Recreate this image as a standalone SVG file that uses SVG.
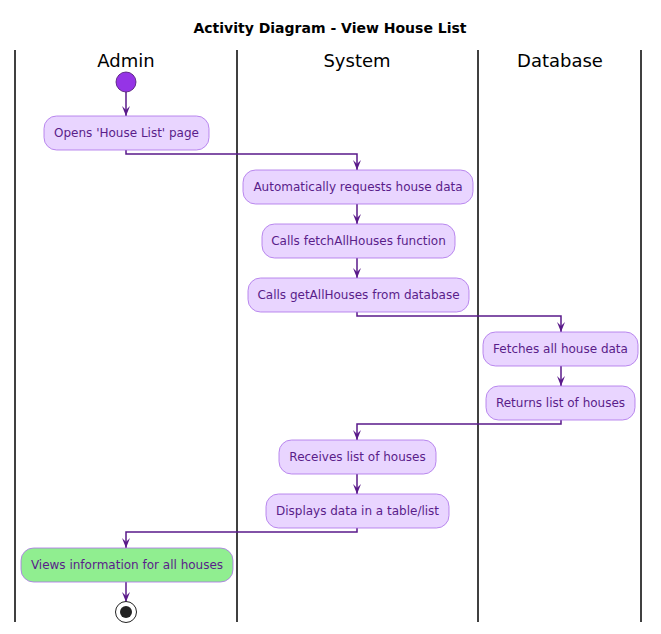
<svg xmlns="http://www.w3.org/2000/svg" width="661" height="634" viewBox="0 0 661 634">
<defs>
<style>
.title{font-family:"DejaVu Sans",sans-serif;font-size:14px;font-weight:bold;fill:#000;text-anchor:middle}
.lane{font-family:"DejaVu Sans",sans-serif;font-size:18px;fill:#000;text-anchor:middle}
.sep{stroke:#000;stroke-width:1.5}
.act rect{fill:#E9D5FF;stroke:#A96EE8;stroke-width:0.8}
.act.done rect{fill:#90EE90}
.act text{font-family:"DejaVu Sans",sans-serif;font-size:12px;fill:#5A1D8A;text-anchor:middle}
.conn{fill:none;stroke:#5A1A8A;stroke-width:1.5}
</style>
<marker id="arr" viewBox="0 0 10 10" refX="10" refY="5" markerWidth="10" markerHeight="10" markerUnits="userSpaceOnUse" orient="auto">
<polygon points="0,1 10,5 0,9 4,5" fill="#5A1A8A"/>
</marker>
</defs>
<rect width="661" height="634" fill="#fff"/>
<text class="title" x="330" y="33">Activity Diagram - View House List</text>
<g id="lanes">
<line class="sep" x1="15" y1="50" x2="15" y2="622"/>
<line class="sep" x1="237" y1="50" x2="237" y2="622"/>
<line class="sep" x1="478" y1="50" x2="478" y2="622"/>
<line class="sep" x1="641" y1="50" x2="641" y2="622"/>
<text class="lane" x="126" y="67">Admin</text>
<text class="lane" x="357" y="67">System</text>
<text class="lane" x="560" y="67">Database</text>
</g>
<g id="connectors">
<path class="conn" d="M126,92 V116" marker-end="url(#arr)"/>
<path class="conn" d="M126,150 V154 H357 V170" marker-end="url(#arr)"/>
<path class="conn" d="M357,204 V224" marker-end="url(#arr)"/>
<path class="conn" d="M357,258 V278" marker-end="url(#arr)"/>
<path class="conn" d="M357,312 V316 H561 V332" marker-end="url(#arr)"/>
<path class="conn" d="M561,366 V386" marker-end="url(#arr)"/>
<path class="conn" d="M561,420 V424 H357 V440" marker-end="url(#arr)"/>
<path class="conn" d="M357,474 V494" marker-end="url(#arr)"/>
<path class="conn" d="M357,528 V532 H126 V548" marker-end="url(#arr)"/>
<path class="conn" d="M126,582 V602" marker-end="url(#arr)"/>
</g>
<g id="start"><circle cx="126" cy="82" r="10" fill="#9534E6" stroke="#4A1470" stroke-width="0.8"/></g>
<g id="a1" class="act"><rect x="44" y="116" width="165" height="34" rx="12.5"/><text x="126.5" y="137">Opens 'House List' page</text></g>
<g id="a2" class="act"><rect x="243" y="170" width="230" height="34" rx="12.5"/><text x="358" y="191">Automatically requests house data</text></g>
<g id="a3" class="act"><rect x="262" y="224" width="193" height="34" rx="12.5"/><text x="358.5" y="245">Calls fetchAllHouses function</text></g>
<g id="a4" class="act"><rect x="248" y="278" width="221" height="34" rx="12.5"/><text x="358.5" y="299">Calls getAllHouses from database</text></g>
<g id="a5" class="act"><rect x="483" y="332" width="155" height="34" rx="12.5"/><text x="560.5" y="353">Fetches all house data</text></g>
<g id="a6" class="act"><rect x="486" y="386" width="149" height="34" rx="12.5"/><text x="560.5" y="407">Returns list of houses</text></g>
<g id="a7" class="act"><rect x="279" y="440" width="157" height="34" rx="12.5"/><text x="357.5" y="461">Receives list of houses</text></g>
<g id="a8" class="act"><rect x="266" y="494" width="183" height="34" rx="12.5"/><text x="357.5" y="515">Displays data in a table/list</text></g>
<g id="a9" class="act done"><rect x="21" y="548" width="212" height="34" rx="12.5"/><text x="127" y="569">Views information for all houses</text></g>
<g id="end"><circle cx="126" cy="612" r="10.5" fill="#fff" stroke="#222" stroke-width="1"/><circle cx="126" cy="612" r="6" fill="#222"/></g>
</svg>
